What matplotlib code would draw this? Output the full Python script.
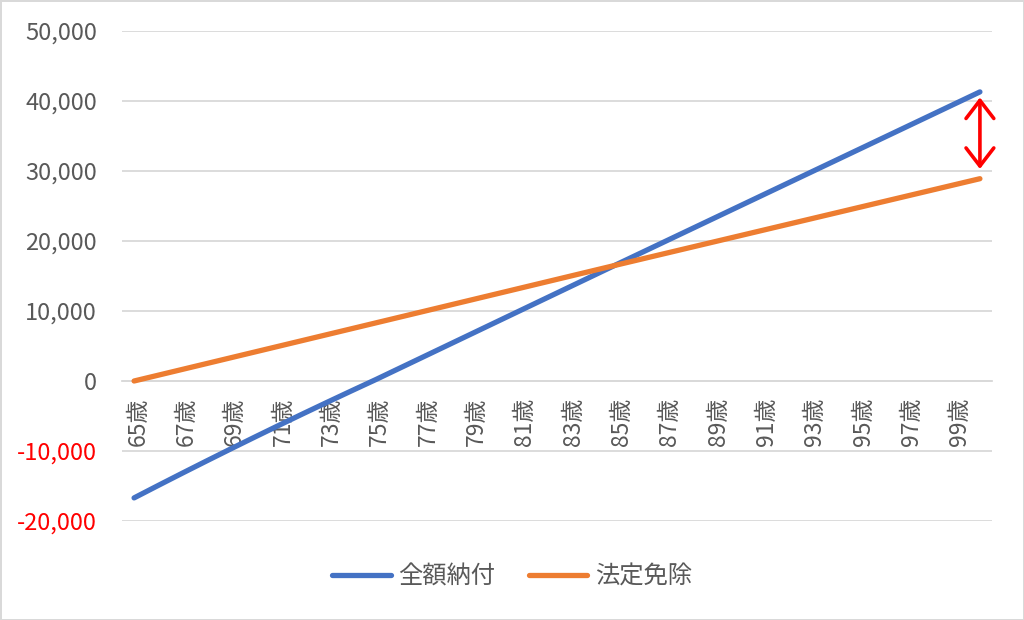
import matplotlib
matplotlib.use("Agg")
import matplotlib.pyplot as plt
import matplotlib.transforms as mtransforms
import numpy as np

plt.rcParams["font.family"] = ["Noto Sans CJK JP", "DejaVu Sans"]

ages = [f"{a}歳" for a in range(65, 101)]

# 全額納付 (full payment), cumulative balance per age
full_pay = [-16700, -14920, -13160, -11420, -9700, -8000, -6320, -4660, -3020, -1400,
            200, 1850, 3500, 5150, 6800, 8450, 10100, 11750, 13400, 15050,
            16700, 18340, 19980, 21620, 23260, 24900, 26540, 28180, 29820, 31460,
            33100, 34740, 36380, 38020, 39660, 41300]

# 法定免除 (statutory exemption)
exempt = [0, 830, 1660, 2490, 3320, 4150, 4980, 5810, 6640, 7470,
          8300, 9130, 9960, 10790, 11620, 12450, 13280, 14110, 14940, 15770,
          16600, 17420, 18240, 19060, 19880, 20700, 21520, 22340, 23160, 23980,
          24800, 25620, 26440, 27260, 28080, 28900]

y_ticks = [-20000, -10000, 0, 10000, 20000, 30000, 40000, 50000]

BLUE = "#4472C4"
ORANGE = "#ED7D31"
GRID = "#D9D9D9"
TEXT = "#595959"

fig = plt.figure(figsize=(10.24, 6.2), dpi=100)
fig.patch.set_edgecolor(GRID)
fig.patch.set_linewidth(2)
ax = fig.add_axes([122 / 1024, 1 - 521 / 620, 870 / 1024, 490 / 620])

x = np.arange(len(ages))
ax.plot(x, full_pay, color=BLUE, lw=3.8, solid_capstyle="round", label="全額納付", zorder=3)
ax.plot(x, exempt, color=ORANGE, lw=3.8, solid_capstyle="round", label="法定免除", zorder=3)

# category axis sits on the zero line (set before styling ticks: it resets them)
for side in ["left", "right", "top"]:
    ax.spines[side].set_visible(False)
ax.spines["bottom"].set_position(("data", 0))
ax.spines["bottom"].set_color(GRID)
ax.spines["bottom"].set_linewidth(1.3)

ax.set_xlim(-0.5, len(ages) - 0.5)
ax.set_ylim(y_ticks[0], y_ticks[-1])
ax.set_yticks(y_ticks)
ax.set_yticklabels([f"{v:,}" for v in y_ticks], fontsize=17)
for lab, v in zip(ax.get_yticklabels(), y_ticks):
    lab.set_color("#FF0000" if v < 0 else TEXT)
ax.yaxis.grid(True, color=GRID, lw=1.3)
ax.set_axisbelow(True)

ax.set_xticks(x[::2])
ax.set_xticklabels(ages[::2], rotation=90, fontsize=16.5, color=TEXT)
ax.tick_params(axis="both", length=0)
ax.tick_params(axis="y", pad=18)
ax.tick_params(axis="x", pad=12)
shift = mtransforms.ScaledTranslation(4 / 100, 0, fig.dpi_scale_trans)
for lab in ax.get_xticklabels():
    lab.set_transform(lab.get_transform() + shift)

# red double arrow showing the gap at 100歳
ax.annotate("", xy=(x[-1], full_pay[-1]), xytext=(x[-1], exempt[-1]),
            arrowprops=dict(arrowstyle="<->, head_length=0.65, head_width=0.5",
                            color="#FF0000", lw=2.6, shrinkA=7, shrinkB=4,
                            mutation_scale=20))

fig.legend(loc="center", bbox_to_anchor=(0.5, 1 - 577 / 620), ncol=2, frameon=False,
           fontsize=17.5, handlelength=2.4, handletextpad=0.3, columnspacing=1.4,
           labelcolor=TEXT)

fig.savefig("out.png", dpi=100)
